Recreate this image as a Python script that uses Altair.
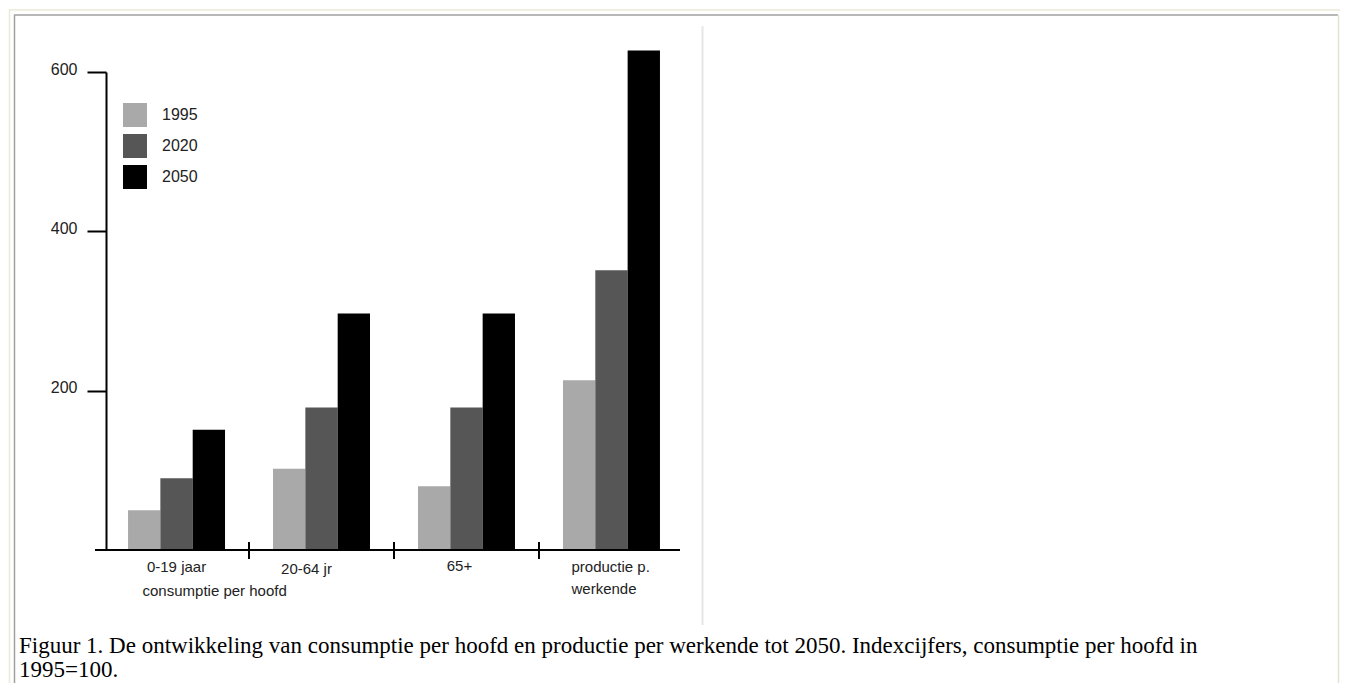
import altair as alt
import pandas as pd

# ---- data ----
groups = ["0-19 jaar", "20-64 jr", "65+", "productie p. werkende"]
years = ["1995", "2020", "2050"]
v1995 = [50, 102, 80, 213]
v2020 = [90, 179, 179, 351]
v2050 = [151, 297, 297, 627]
year_colors = ["#a9a9a9", "#565656", "#000000"]
y_ticks = [200, 400, 600]
caption_lines = [
    "Figuur 1. De ontwikkeling van consumptie per hoofd en productie per werkende tot 2050. Indexcijfers, consumptie per hoofd in",
    "1995=100.",
]

rows = []
for g, a, b, c in zip(groups, v1995, v2020, v2050):
    for yr, v in zip(years, [a, b, c]):
        rows.append({"groep": g, "jaar": yr, "index": v})
df = pd.DataFrame(rows)

W, H = 576, 478
xscale = alt.Scale(domain=groups, paddingInner=0.331, paddingOuter=0.152)
FONT = "Liberation Sans"

bars = alt.Chart(df).mark_bar().encode(
    x=alt.X("groep:N", scale=xscale, axis=None, sort=groups),
    xOffset=alt.XOffset("jaar:N", sort=years),
    y=alt.Y("index:Q", scale=alt.Scale(domain=[0, 600], nice=False, zero=True),
            axis=alt.Axis(values=y_ticks, title=None, tickSize=19, tickWidth=2,
                          domainWidth=2, domainColor="black", tickColor="black",
                          labelFont=FONT, labelFontSize=16, labelColor="#222",
                          labelPadding=10, labelOffset=-3, grid=False)),
    color=alt.Color("jaar:N", sort=years,
                    scale=alt.Scale(domain=years, range=year_colors),
                    legend=alt.Legend(title=None, orient="none", legendX=17, legendY=31,
                                      symbolType="square", symbolSize=576,
                                      symbolStrokeWidth=0, symbolOpacity=1,
                                      labelFont=FONT, labelFontSize=16, labelColor="#222",
                                      labelOffset=15, rowPadding=7)),
)

sep_df = pd.DataFrame({"groep": groups[1:]})
seps = alt.Chart(sep_df).mark_rule(color="black", strokeWidth=2, xOffset=-24).encode(
    x=alt.X("groep:N", scale=xscale, axis=None, sort=groups, bandPosition=0),
    y=alt.value(H - 8),
    y2=alt.value(H + 9),
)

one = alt.Data(values=[{"k": 1}])

def rule(x1, x2, y1, y2, color, w):
    return alt.Chart(one).mark_rule(color=color, strokeWidth=w).encode(
        x=alt.value(x1), x2=alt.value(x2), y=alt.value(y1), y2=alt.value(y2))

xaxis_line = rule(-11, 574, H, H, "black", 2)

def lab(text, grp, dx, y, align):
    d = pd.DataFrame({"groep": [grp], "t": [text]})
    return alt.Chart(d).mark_text(font=FONT, fontSize=15, color="#222", align=align,
                                  baseline="middle", dx=dx).encode(
        x=alt.X("groep:N", scale=xscale, axis=None, sort=groups),
        y=alt.value(y),
        text="t:N")

labels = [
    lab("0-19 jaar", groups[0], 0, 495, "center"),
    lab("consumptie per hoofd", groups[0], -34, 519, "left"),
    lab("20-64 jr", groups[1], -15, 497, "center"),
    lab("65+", groups[2], -7, 494, "center"),
    lab("productie p.", groups[3], -40, 495, "left"),
    lab("werkende", groups[3], -40, 517, "left"),
]

def cap(text, y):
    d = pd.DataFrame({"t": [text]})
    return alt.Chart(d).mark_text(font="Liberation Serif", fontSize=23, color="black",
                                  align="left", baseline="alphabetic").encode(
        x=alt.value(-87), y=alt.value(y), text="t:N")

captions = [cap(caption_lines[0], 581), cap(caption_lines[1], 605)]

frame = [
    rule(-97, 1234, -62, -62, "#ECE9D8", 1.5),
    rule(-96.5, -96.5, -63, 611, "#ECE9D8", 1.5),
    rule(-92, 1232, -57, -57, "#A0A0A0", 1.5),
    rule(-91.5, -91.5, -57, 611, "#A0A0A0", 1.5),
    rule(1232.5, 1232.5, -57, 611, "#E6E2D3", 1.5),
    rule(596.5, 596.5, -46, 553, "#E6E6E6", 2),
]

chart = alt.layer(*frame, bars, seps, xaxis_line, *labels, *captions).properties(
    width=W, height=H,
    autosize=alt.AutoSizeParams(type="none"),
    padding={"left": 98, "top": 64, "right": 658, "bottom": 133},
    background="white",
).configure_view(strokeWidth=0)

chart.save("out.html", embed_options={"renderer": "svg", "actions": False})
